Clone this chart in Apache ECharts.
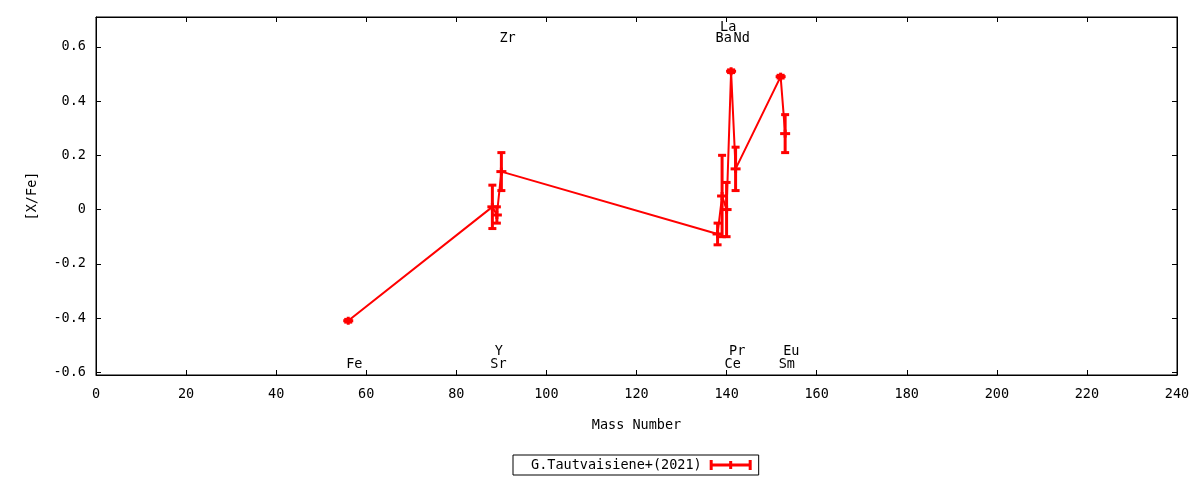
<!DOCTYPE html>
<html lang="en">
<head>
    <meta charset="UTF-8">
    <title>[X/Fe] vs Mass Number</title>
    <script src="https://cdn.jsdelivr.net/npm/echarts@6/dist/echarts.min.js"></script>
    <style>
        html, body { margin: 0; padding: 0; background: #fff; }
    </style>
</head>
<body>
<div id="main" style="width: 1200px;height:480px;"></div>
<script type="text/javascript">
    // element data
    var elements = ['Fe', 'Sr', 'Y', 'Zr', 'Ba', 'La', 'Ce', 'Pr', 'Nd', 'Sm', 'Eu'];
    var massNumbers = [56, 88, 89, 90, 138, 139, 140, 141, 142, 152, 153];
    var abundances = [-0.41, 0.01, -0.02, 0.14, -0.09, 0.05, 0.00, 0.51, 0.15, 0.49, 0.28];
    var errors = [0.005, 0.08, 0.03, 0.07, 0.04, 0.15, 0.10, 0.005, 0.08, 0.005, 0.07];
    var labelY = [-0.572, -0.572, -0.522, 0.63, 0.63, 0.67, -0.572, -0.522, 0.63, -0.572, -0.522];
    var yTicks = [-0.6, -0.4, -0.2, 0, 0.2, 0.4, 0.6];
    var seriesName = 'G.Tautvaisiene+(2021)';

    var FONT = '"DejaVu Sans Mono", "Liberation Mono", monospace';
    var RED = '#ff0000';

    var lineData = [];
    var errData = [];
    var labelData = [];
    for (var i = 0; i < elements.length; i++) {
        lineData.push([massNumbers[i], abundances[i]]);
        errData.push([massNumbers[i], abundances[i], errors[i]]);
        labelData.push([massNumbers[i], labelY[i]]);
    }

    function yFmt(v) {
        if (Math.abs(v) < 1e-9) return '0';
        return String(+v.toFixed(1));
    }

    function renderErr(params, api) {
        var x = api.value(0), y = api.value(1), e = api.value(2);
        var top = api.coord([x, y + e]);
        var bot = api.coord([x, y - e]);
        var mid = api.coord([x, y]);
        var hw = 4;
        var st = { stroke: RED, lineWidth: 3, fill: null };
        return {
            type: 'group',
            children: [
                { type: 'line', shape: { x1: top[0], y1: top[1], x2: bot[0], y2: bot[1] }, style: st },
                { type: 'line', shape: { x1: top[0] - hw, y1: top[1], x2: top[0] + hw, y2: top[1] }, style: st },
                { type: 'line', shape: { x1: bot[0] - hw, y1: bot[1], x2: bot[0] + hw, y2: bot[1] }, style: st },
                { type: 'line', shape: { x1: mid[0] - hw - 1, y1: mid[1], x2: mid[0] + hw + 1, y2: mid[1] }, style: st },
                { type: 'line', shape: { x1: mid[0], y1: mid[1] - hw, x2: mid[0], y2: mid[1] + hw }, style: st }
            ]
        };
    }

    function renderLabel(params, api) {
        var p = api.coord([api.value(0), api.value(1)]);
        return {
            type: 'text',
            x: p[0] - 2,
            y: p[1],
            style: {
                text: elements[params.dataIndex],
                fill: '#000',
                font: '13.5px ' + FONT,
                align: 'left',
                verticalAlign: 'middle'
            }
        };
    }

    var chartDom = document.getElementById('main');
    var myChart = echarts.init(chartDom);
    var option;

    var tickStyle = { show: true, inside: true, length: 5, lineStyle: { color: '#000', width: 1 } };
    var lineStyleAxis = { show: true, onZero: false, lineStyle: { color: '#000', width: 1 } };

    option = {
        animation: false,
        backgroundColor: '#fff',
        textStyle: { fontFamily: FONT },
        grid: {
            left: 96, right: 23, top: 17, bottom: 105,
            show: true, borderColor: '#000', borderWidth: 1, backgroundColor: 'transparent'
        },
        legend: {
            show: true,
            data: [seriesName],
            left: 513,
            top: 455,
            align: 'right',
            orient: 'horizontal',
            padding: [2, 7, 2, 18],
            borderColor: '#000',
            borderWidth: 1,
            borderRadius: 0,
            itemWidth: 42,
            itemHeight: 10,
            icon: 'path://M0,0h3v10h-3zM39,0h3v10h-3zM0,3.5h42v3h-42zM19.5,1h3v8h-3z',
            itemStyle: { color: RED, borderWidth: 0 },
            textStyle: { color: '#000', fontFamily: FONT, fontSize: 13.5, lineHeight: 16, padding: [0, 3, 0, 0] }
        },
        xAxis: [{
            type: 'value',
            position: 'bottom',
            min: 0, max: 240, interval: 20,
            name: 'Mass Number',
            nameLocation: 'middle',
            nameGap: 43,
            nameTextStyle: { color: '#000', fontFamily: FONT, fontSize: 13.5 },
            axisLine: lineStyleAxis,
            axisTick: tickStyle,
            axisLabel: { color: '#000', fontFamily: FONT, fontSize: 13.5, margin: 12 },
            splitLine: { show: false }
        }, {
            type: 'value',
            position: 'top',
            min: 0, max: 240, interval: 20,
            axisLine: lineStyleAxis,
            axisTick: tickStyle,
            axisLabel: { show: false },
            splitLine: { show: false }
        }],
        yAxis: [{
            type: 'value',
            position: 'left',
            min: -0.61, max: 0.71,
            name: '[X/Fe]',
            nameLocation: 'middle',
            nameGap: 57,
            nameTextStyle: { color: '#000', fontFamily: FONT, fontSize: 13.5 },
            axisLine: lineStyleAxis,
            axisTick: Object.assign({ customValues: yTicks }, tickStyle),
            axisLabel: { color: '#000', fontFamily: FONT, fontSize: 13.5, margin: 10, customValues: yTicks, formatter: yFmt },
            splitLine: { show: false }
        }, {
            type: 'value',
            position: 'right',
            min: -0.61, max: 0.71,
            axisLine: lineStyleAxis,
            axisTick: Object.assign({ customValues: yTicks }, tickStyle),
            axisLabel: { show: false },
            splitLine: { show: false }
        }],
        series: [
            {
                name: 'connect',
                type: 'line',
                xAxisIndex: 0,
                yAxisIndex: 0,
                data: lineData,
                symbol: 'none',
                lineStyle: { color: RED, width: 2 },
                itemStyle: { color: RED },
                z: 2
            },
            {
                name: seriesName,
                type: 'custom',
                xAxisIndex: 0,
                yAxisIndex: 0,
                data: errData,
                renderItem: renderErr,
                itemStyle: { color: RED },
                z: 3
            },
            {
                name: 'labels',
                type: 'custom',
                xAxisIndex: 0,
                yAxisIndex: 0,
                data: labelData,
                renderItem: renderLabel,
                silent: true,
                z: 4
            }
        ]
    };

    option && myChart.setOption(option);
    window.addEventListener("resize", function () {
        myChart.resize();
    });
</script>
</body>
</html>
